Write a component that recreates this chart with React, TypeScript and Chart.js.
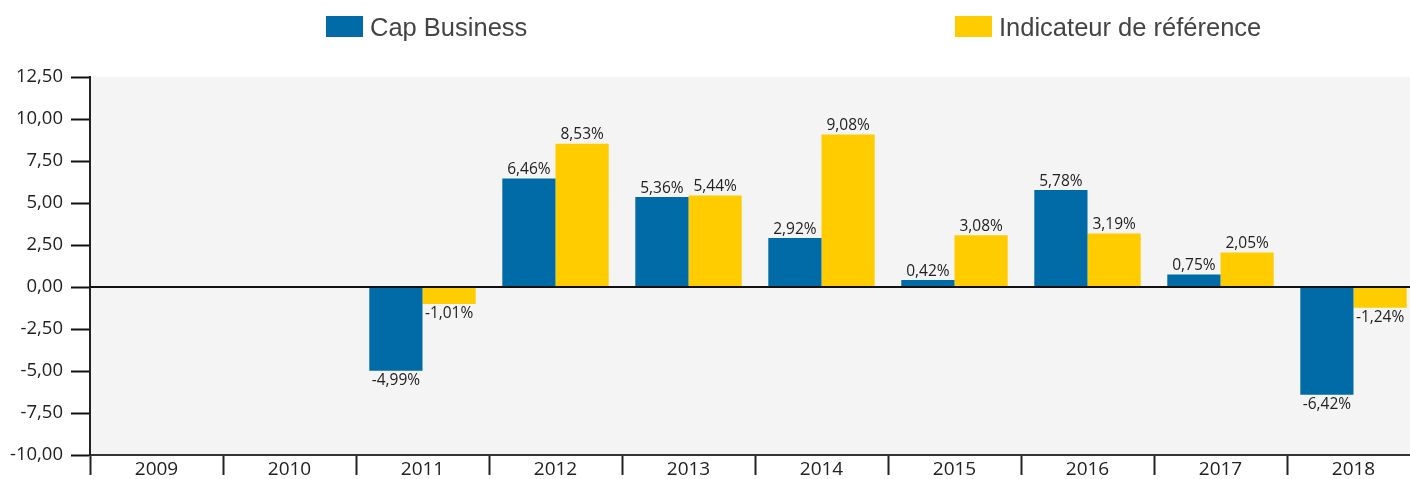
import React, { useEffect, useRef } from "react";
import { Chart, registerables } from "chart.js";

Chart.register(...registerables);

const categories = ["2009", "2010", "2011", "2012", "2013", "2014", "2015", "2016", "2017", "2018"];
const capBusiness = [null, null, -4.99, 6.46, 5.36, 2.92, 0.42, 5.78, 0.75, -6.42];
const indicateur = [null, null, -1.01, 8.53, 5.44, 9.08, 3.08, 3.19, 2.05, -1.24];
const seriesNames = ["Cap Business", "Indicateur de référence"];
const seriesColors = ["#006ba6", "#ffcc00"];
const yMin = -10;
const yMax = 12.5;
const yStep = 2.5;

const fmt = (v: number, d: number) => v.toFixed(d).replace(".", ",");

const bgPlugin = {
  id: "bg",
  beforeDraw(chart: any) {
    const { ctx, chartArea } = chart;
    ctx.save();
    ctx.fillStyle = "#f4f4f4";
    ctx.fillRect(chartArea.left, chartArea.top, chartArea.right - chartArea.left, chartArea.bottom - chartArea.top);
    ctx.restore();
  },
};

const overlayPlugin = {
  id: "overlay",
  afterDatasetsDraw(chart: any) {
    const { ctx, chartArea } = chart;
    const y0 = chart.scales.y.getPixelForValue(0);
    ctx.save();
    ctx.strokeStyle = "#111";
    ctx.lineWidth = 2;
    ctx.beginPath();
    ctx.moveTo(chartArea.left, y0);
    ctx.lineTo(chartArea.right, y0);
    ctx.stroke();

    ctx.font = '15.5px "Open Sans", sans-serif';
    ctx.fillStyle = "#222";
    ctx.textAlign = "center";
    chart.data.datasets.forEach((ds: any, di: number) => {
      const meta = chart.getDatasetMeta(di);
      meta.data.forEach((bar: any, i: number) => {
        const v = ds.data[i];
        if (v === null || v === undefined) return;
        const txt = fmt(v, 2) + "%";
        if (v >= 0) {
          ctx.textBaseline = "bottom";
          ctx.fillText(txt, bar.x, bar.y - 1);
        } else {
          ctx.textBaseline = "top";
          ctx.fillText(txt, bar.x, bar.y + 2);
        }
      });
    });

    // legend
    ctx.font = '25.5px "Liberation Sans", Arial, sans-serif';
    ctx.textAlign = "left";
    ctx.textBaseline = "middle";
    const lx = [326, 955];
    seriesNames.forEach((name, i) => {
      ctx.fillStyle = seriesColors[i];
      ctx.fillRect(lx[i], 16, 37, 21);
      ctx.fillStyle = "#444";
      ctx.fillText(name, lx[i] + 44, 29);
    });
    ctx.restore();
  },
};

export default function App() {
  const ref = useRef<HTMLCanvasElement>(null);
  useEffect(() => {
    document.body.style.margin = "0";
    document.body.style.overflow = "hidden";
    document.documentElement.style.overflow = "hidden";
    const chart = new Chart(ref.current!, {
      type: "bar",
      data: {
        labels: categories,
        datasets: [
          { label: seriesNames[0], data: capBusiness as any, backgroundColor: seriesColors[0], categoryPercentage: 0.8, barPercentage: 1 },
          { label: seriesNames[1], data: indicateur as any, backgroundColor: seriesColors[1], categoryPercentage: 0.8, barPercentage: 1 },
        ],
      },
      options: {
        animation: false,
        responsive: false,
        maintainAspectRatio: false,
        layout: { padding: { top: 77, left: 0, right: 0, bottom: 0 } },
        plugins: { legend: { display: false }, tooltip: { enabled: false } },
        scales: {
          x: {
            grid: { offset: true, drawOnChartArea: false, drawTicks: true, tickLength: 20, tickColor: "#222", tickWidth: 2 },
            border: { display: true, color: "#333", width: 2 },
            ticks: { color: "#222", font: { family: '"Open Sans", sans-serif', size: 19 }, padding: -17 },
            afterFit: (s: any) => { s.height = 24; },
          },
          y: {
            min: yMin,
            max: yMax,
            grid: { drawOnChartArea: false, drawTicks: true, tickLength: 19, tickColor: "#111", tickWidth: 2 },
            border: { display: true, color: "#222", width: 2 },
            ticks: {
              stepSize: yStep,
              color: "#222",
              padding: 8,
              font: { family: '"Open Sans", sans-serif', size: 18.5 },
              callback: (v: any) => fmt(Number(v), 2),
            },
            afterFit: (s: any) => { s.width = 90; },
          },
        },
      },
      plugins: [bgPlugin, overlayPlugin],
    });
    return () => chart.destroy();
  }, []);
  return (
    <div style={{ width: 1410, height: 479, overflow: "hidden" }}>
      <canvas ref={ref} width={1420} height={479} style={{ display: "block" }} />
    </div>
  );
}
